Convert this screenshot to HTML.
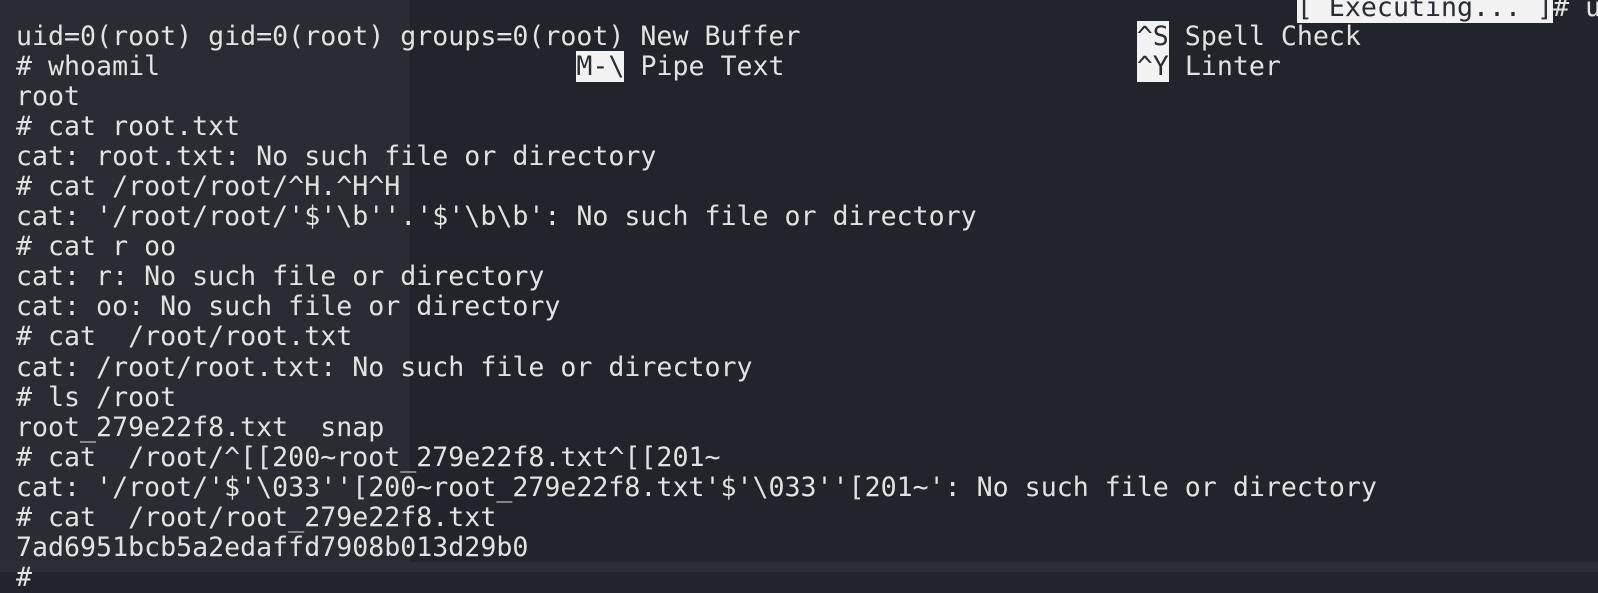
<!DOCTYPE html>
<html><head><meta charset="utf-8"><style>
html,body{margin:0;padding:0;width:1598px;height:572px;overflow:hidden;background:#22242c;}
#l{position:absolute;left:0;top:0;width:410px;height:572px;background:#2a2c34;}
#b{position:absolute;left:0;top:562px;width:1598px;height:10px;background:#2c2e36;}
.t{position:absolute;left:16px;white-space:pre;font-family:"DejaVu Sans Mono","Liberation Mono",monospace;font-size:26.6px;line-height:30.05px;color:#e2e2e2;}
.i{background:#f2f2f2;color:#2a2c34;}
</style></head><body>
<div id="l"></div><div id="b"></div>
<div class="t" style="top:-7.5px">                                                                                <span class="i">[ Executing... ]</span># u</div>
<div class="t" style="top:22px">uid=0(root) gid=0(root) groups=0(root) New Buffer                     <span class="i">^S</span> Spell Check
# whoamil                          <span class="i">M-\</span> Pipe Text                      <span class="i">^Y</span> Linter
root
# cat root.txt
cat: root.txt: No such file or directory
# cat /root/root/^H.^H^H
cat: '/root/root/'$'\b''.'$'\b\b': No such file or directory
# cat r oo
cat: r: No such file or directory
cat: oo: No such file or directory
# cat  /root/root.txt
cat: /root/root.txt: No such file or directory
# ls /root
root_279e22f8.txt  snap
# cat  /root/^[[200~root_279e22f8.txt^[[201~
cat: '/root/'$'\033''[200~root_279e22f8.txt'$'\033''[201~': No such file or directory
# cat  /root/root_279e22f8.txt
7ad6951bcb5a2edaffd7908b013d29b0
# </div>
</body></html>
